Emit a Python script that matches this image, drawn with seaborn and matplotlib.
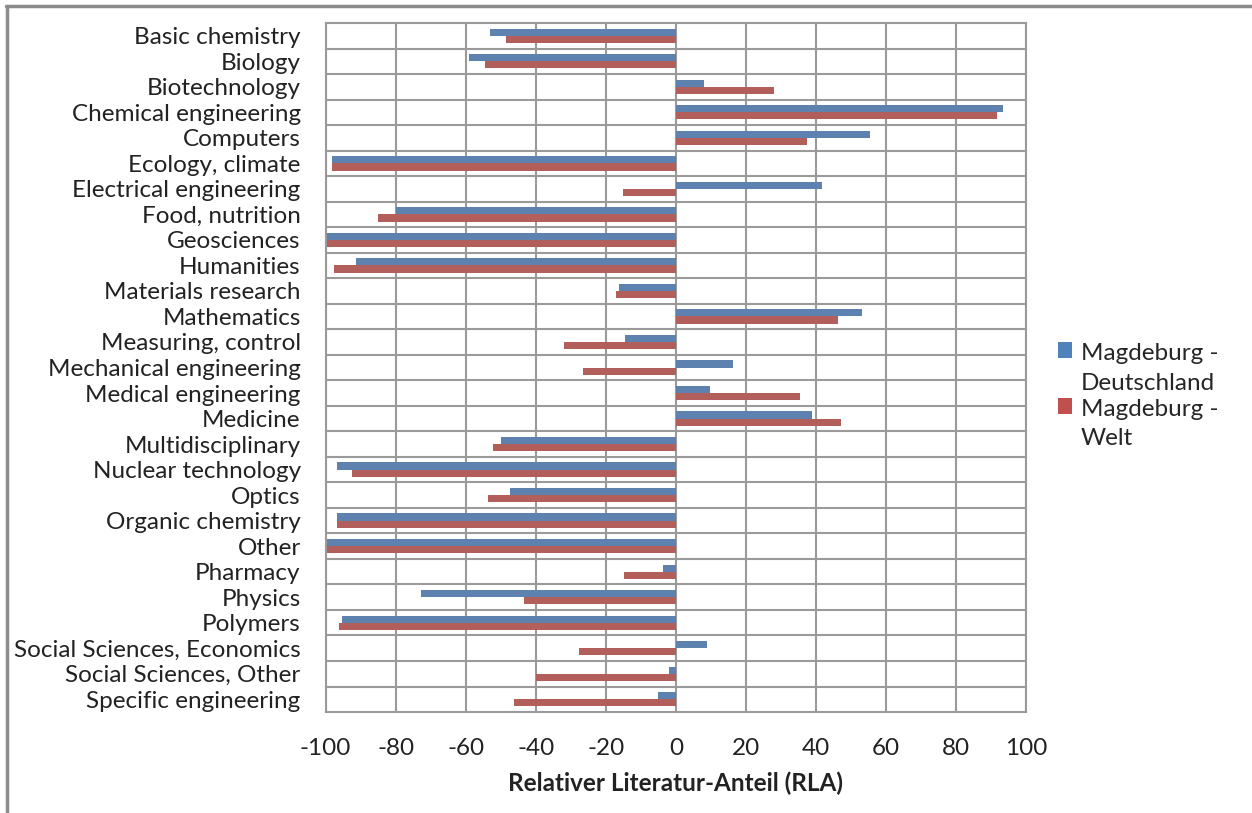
import matplotlib
matplotlib.use("Agg")
import matplotlib.pyplot as plt
import seaborn as sns
import pandas as pd
from matplotlib.lines import Line2D

categories = [
    "Basic chemistry", "Biology", "Biotechnology", "Chemical engineering",
    "Computers", "Ecology, climate", "Electrical engineering", "Food, nutrition",
    "Geosciences", "Humanities", "Materials research", "Mathematics",
    "Measuring, control", "Mechanical engineering", "Medical engineering",
    "Medicine", "Multidisciplinary", "Nuclear technology", "Optics",
    "Organic chemistry", "Other", "Pharmacy", "Physics", "Polymers",
    "Social Sciences, Economics", "Social Sciences, Other", "Specific engineering",
]
deutschland = [-53, -59, 8, 93.4, 55.3, -98.3, 41.8, -80, -100, -91.4,
               -16.3, 53.2, -14.5, 16.3, 9.6, 38.9, -50, -96.9, -47.4,
               -96.9, -100, -3.8, -72.7, -95.4, 8.9, -2, -5]
welt = [-48.6, -54.4, 27.9, 91.6, 37.4, -98.3, -15, -85.1, -100, -97.6,
        -17.1, 46.2, -32, -26.6, 35.3, 47, -52.2, -92.5, -53.6,
        -96.9, -100, -14.9, -43.4, -96.1, -27.7, -39.9, -46.3]
series_names = ["Magdeburg -\nDeutschland", "Magdeburg -\nWelt"]
x_ticks = [-100, -80, -60, -40, -20, 0, 20, 40, 60, 80, 100]
x_label = "Relativer Literatur-Anteil (RLA)"

df = pd.DataFrame({
    "cat": categories * 2,
    "value": deutschland + welt,
    "series": [series_names[0]] * len(categories) + [series_names[1]] * len(categories),
})

sns.set_style("white")
plt.rcParams["font.family"] = ["Lato", "DejaVu Sans"]

FS = 17.5
fig = plt.figure(figsize=(12.52, 8.13), dpi=100)
ax = fig.add_axes([0.2601, 0.1242, 0.5595, 0.8475])

colors = ["#4F81BD", "#C0504D"]
sns.barplot(data=df, y="cat", x="value", hue="series", orient="h",
            palette=colors, width=0.56, ax=ax, legend=False,
            edgecolor="none", linewidth=0)

n = len(categories)
ax.set_xlim(-100, 100)
ax.set_ylim(n - 0.5, -0.5)
ax.set_xticks(x_ticks)
ax.set_xticklabels([str(t) for t in x_ticks], fontsize=FS, color="#222222")
ax.set_yticks(range(n))
ax.set_yticklabels(categories, fontsize=FS, color="#222222")
ax.set_yticks([i + 0.5 for i in range(n - 1)], minor=True)
ax.tick_params(axis="both", which="both", length=0)
ax.tick_params(axis="y", pad=18)
ax.tick_params(axis="x", pad=19)
ax.set_ylabel("")
ax.set_xlabel(x_label, fontsize=FS, fontweight="bold", color="#222222", labelpad=9)

ax.grid(False)
ax.xaxis.grid(True, which="major", color="#9A9A9A", linewidth=1.5)
ax.yaxis.grid(True, which="minor", color="#9A9A9A", linewidth=1.5)
ax.set_axisbelow(True)
for s in ax.spines.values():
    s.set_visible(True)
    s.set_color("#9A9A9A")
    s.set_linewidth(1.5)

handles = [plt.Rectangle((0, 0), 1, 1, facecolor=c, edgecolor="none") for c in colors]
leg = fig.legend(handles, series_names, loc="upper left", bbox_to_anchor=(0.837, 0.590),
                 frameon=False, fontsize=FS, handlelength=0.6, handleheight=0.6,
                 handletextpad=0.35, labelspacing=0.22, borderaxespad=0)
for t in leg.get_texts():
    t.set_linespacing(1.5)
# align each handle with the first line of its two-line label
for h in leg.legend_handles:
    h.set_y(h.get_y() + 0.75 * FS)

# outer chart border (top and left edges visible)
fig.add_artist(Line2D([0.005, 1.0], [1 - 6 / 813, 1 - 6 / 813], transform=fig.transFigure,
                      color="#8C8C8C", linewidth=2.5))
fig.add_artist(Line2D([7 / 1252, 7 / 1252], [0.0, 1 - 6 / 813], transform=fig.transFigure,
                      color="#8C8C8C", linewidth=2.5))

fig.savefig("out.png", dpi=100)
